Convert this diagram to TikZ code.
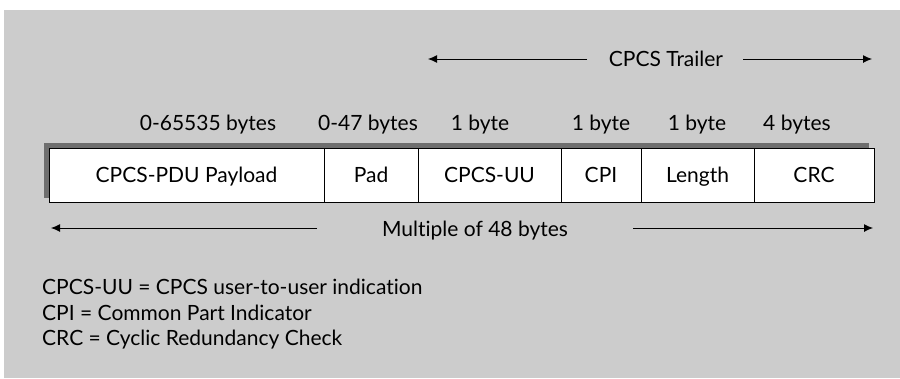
\documentclass[tikz,border=0pt]{standalone}
\usepackage{fontspec}
\setmainfont{Lato}[Ligatures={NoCommon,TeX}]
\usetikzlibrary{arrows.meta}
\definecolor{bggray}{HTML}{CCCCCC}
\definecolor{shadowgray}{HTML}{6E6E6E}
\begin{document}
\begin{tikzpicture}[x=1pt,y=-1pt,
  txt/.style={font=\fontsize{21}{24}\selectfont, inner sep=0pt, anchor=base},
  cell/.style={draw=black, line width=0.9pt, fill=white},
  arr/.style={line width=0.9pt, -{Latex[length=9pt,width=8pt]}},
  legend/.style={font=\fontsize{21}{24}\selectfont, inner sep=0pt, anchor=base west}]
\useasboundingbox (0,0) rectangle (900,378);
\fill[white] (0,0) rectangle (900,378);
\fill[bggray] (4,10) rectangle (900,378);
% shadow
\fill[shadowgray] (44,143) rectangle (869,198);
% cells
\draw[cell] (49,148) rectangle (324,202);
\draw[cell] (324,148) rectangle (418,202);
\draw[cell] (418,148) rectangle (561,202);
\draw[cell] (561,148) rectangle (641,202);
\draw[cell] (641,148) rectangle (754,202);
\draw[cell] (754,148) rectangle (874,202);
\node[txt] (payload) at (186.5,182) {CPCS-PDU Payload};
\node[txt] (pad) at (371,182) {Pad};
\node[txt] (uu) at (489.5,182) {CPCS-UU};
\node[txt] (cpi) at (601,182) {CPI};
\node[txt] (len) at (697.5,182) {Length};
\node[txt] (crc) at (814,182) {CRC};
% size labels
\node[txt] (s1) at (208,130) {0-65535 bytes};
\node[txt] (s2) at (368,130) {0-47 bytes};
\node[txt] (s3) at (480,130) {1 byte};
\node[txt] (s4) at (601,130) {1 byte};
\node[txt] (s5) at (697,130) {1 byte};
\node[txt] (s6) at (797,130) {4 bytes};
% CPCS trailer arrow
\node[txt] (trailer) at (666,66) {CPCS Trailer};
\coordinate (tl1) at (587,59);
\coordinate (tl2) at (428,59);
\coordinate (tr1) at (743,59);
\coordinate (tr2) at (872,59);
\draw[arr] (tl1) -- (tl2);
\draw[arr] (tr1) -- (tr2);
% multiple of 48 arrow
\node[txt] (mult) at (475,236) {Multiple of 48 bytes};
\coordinate (ml1) at (317,228);
\coordinate (ml2) at (51,228);
\coordinate (mr1) at (633,228);
\coordinate (mr2) at (873,228);
\draw[arr] (ml1) -- (ml2);
\draw[arr] (mr1) -- (mr2);
% legend
\node[legend] (l1) at (42,294) {CPCS-UU = CPCS user-to-user indication};
\node[legend] (l2) at (42,320) {CPI = Common Part Indicator};
\node[legend] (l3) at (42,345) {CRC = Cyclic Redundancy Check};
\end{tikzpicture}
\end{document}
